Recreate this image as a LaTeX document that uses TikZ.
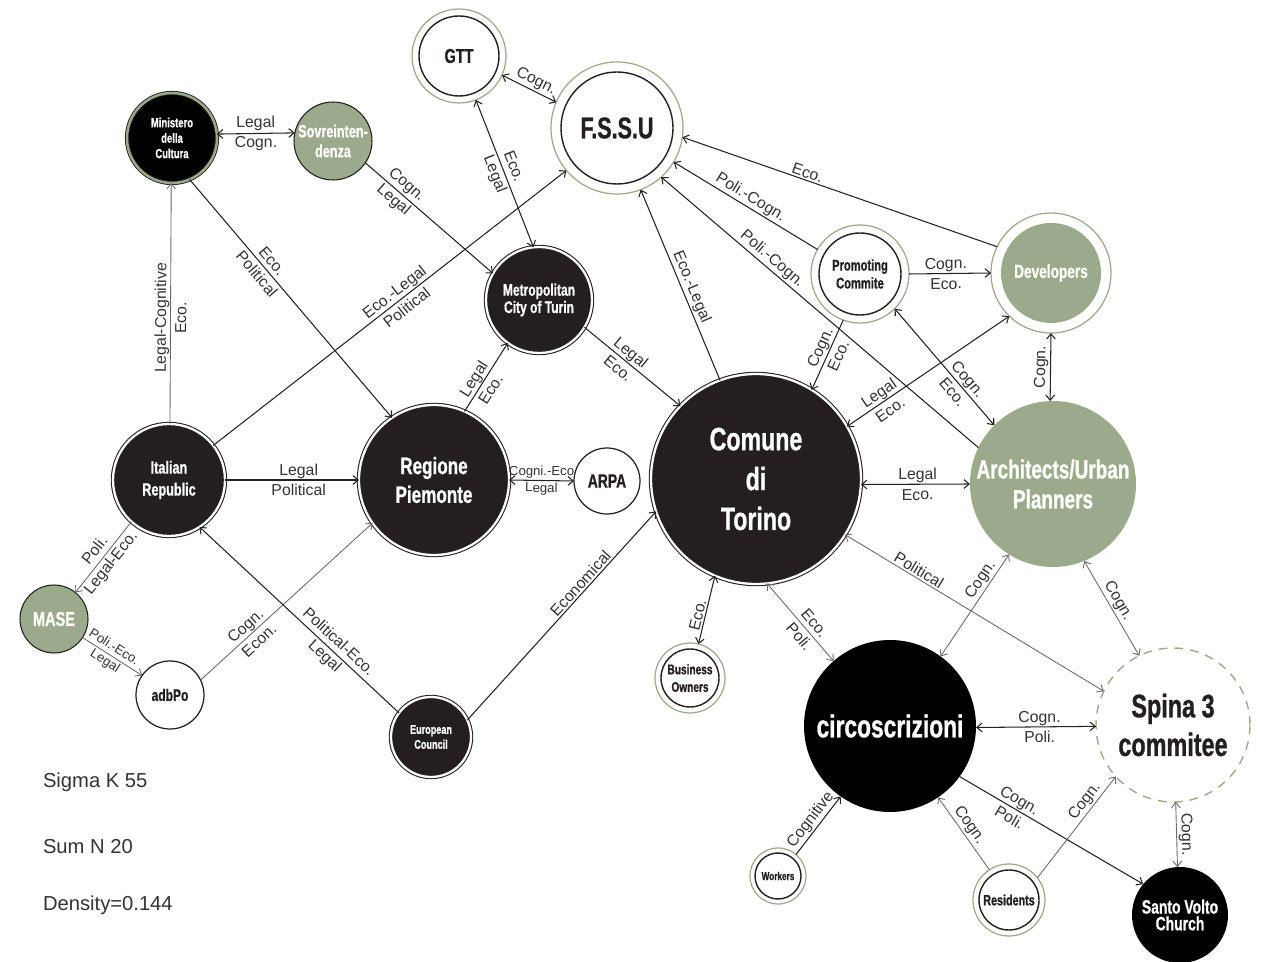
\documentclass[tikz,border=0pt]{standalone}
\usepackage{fontspec}
\setmainfont{Liberation Sans}
\newfontfamily\cond{Liberation Sans}[FakeStretch=0.72, FakeBold=0.8]
\usetikzlibrary{arrows.meta}
\definecolor{sage}{HTML}{9BAA8A}
\definecolor{ink}{HTML}{231F20}
\definecolor{labgray}{HTML}{333333}
\definecolor{wire}{HTML}{222222}
\definecolor{softwire}{HTML}{6A6A6A}

\begin{document}
\begin{tikzpicture}[x=0.02cm, y=-0.02cm,
  >={Straight Barb[length=3pt,width=5pt]},
  every node/.style={outer sep=0pt},
  actor/.style={circle, inner sep=0pt, align=center, minimum size={2*#1*0.02cm}},
  nf/.style 2 args={font={\cond\bfseries\fontsize{#1}{#2}\selectfont}},
  blackdbl/.style={actor=#1, draw=ink, line width=0.6pt, double=white, double distance=1.3pt, fill=ink, text=white},
  mincult/.style={actor=#1, draw=ink, line width=0.5pt, double=sage, double distance=1.4pt, fill=black, text=white},
  ringwhite/.style 2 args={actor=#1, draw=sage, line width=0.7pt, fill=white, text=ink,
    path picture={\draw[ink, line width=0.8pt] (path picture bounding box.center) circle[radius={#2*0.02cm}];}},
  ringgreen/.style 2 args={actor=#1, draw=sage, line width=0.7pt, fill=white, text=white,
    path picture={\fill[sage] (path picture bounding box.center) circle[radius={#2*0.02cm}];}},
  sagebox/.style={actor=#1, draw=ink, line width=0.6pt, fill=sage, text=white},
  greenfill/.style={actor=#1, fill=sage, text=white},
  plainwhite/.style={actor=#1, draw=ink, line width=0.7pt, fill=white, text=ink},
  solidblack/.style={actor=#1, fill=black, text=white},
  dashring/.style={actor=#1, draw=sage, line width=0.8pt, dash pattern=on 5pt off 4pt, fill=white, text=ink},
  edge/.style={draw=wire, line width=0.6pt},
  softedge/.style={draw=softwire, line width=0.5pt},
  lab/.style={font=\fontsize{9}{10}\selectfont, text=labgray, inner sep=1.2pt, sloped},
  pair/.style={lab, inner sep=0pt, align=center, font=\fontsize{9}{11.5}\selectfont},
  spair/.style={pair, font=\fontsize{7.5}{9.5}\selectfont},
  stat/.style={anchor=west, inner sep=0pt, font=\fontsize{11.5}{13}\selectfont, text=labgray},
]
\useasboundingbox (0,0) rectangle (1265,962);

% actors
\node[mincult=45, nf={7.5}{8.8}] (min) at (172,138) {Ministero\\della\\Cultura};
\node[sagebox=39, nf={10}{11.3}] (sov) at (333,141) {Sovreinten-\\denza};
\node[ringwhite={47}{40}, nf={11.4}{13}] (gtt) at (459,56) {GTT};
\node[ringwhite={66}{56}, nf={17}{20}] (fssu) at (617,128) {F.S.S.U};
\node[blackdbl=53, nf={9.5}{8.5}] (metro) at (539,300) {Metropolitan\\City of Turin};
\node[blackdbl=56, nf={10}{12.5}] (ir) at (169,480) {Italian\\Republic};
\node[blackdbl=75, nf={13.5}{16.4}] (reg) at (434,480) {Regione\\Piemonte};
\node[plainwhite=33, nf={11}{13}] (arpa) at (607,481) {ARPA};
\node[blackdbl=105, nf={18.3}{22.7}] (com) at (756,479) {Comune\\di\\Torino};
\node[ringwhite={49}{41}, nf={8.8}{10.2}] (prom) at (860,274) {Promoting\\Commite};
\node[ringgreen={60}{50}, nf={10.8}{13}] (dev) at (1051,273) {Developers};
\node[greenfill=83, nf={15}{17}] (arch) at (1053,484) {Architects/Urban\\Planners};
\node[sagebox=34, nf={11.5}{13}] (mase) at (54,619) {MASE};
\node[plainwhite=34, nf={9.5}{11}] (adb) at (170,695) {adbPo};
\node[blackdbl=40, nf={7.2}{8.5}] (eu) at (431,737) {European\\Council};
\node[ringwhite={35}{29}, nf={8}{10}] (bus) at (690,678) {Business\\Owners};
\node[solidblack=86, nf={18}{20}] (circ) at (890,726) {circoscrizioni};
\node[dashring=77, nf={18.5}{22}] (spina) at (1173,725) {Spina 3\\commitee};
\node[ringwhite={28}{23}, nf={6.5}{8}] (work) at (778,876) {Workers};
\node[ringwhite={36}{30}, nf={8.5}{10}] (res) at (1009,900) {Residents};
\node[solidblack=48, nf={11}{9.5}] (svc) at (1180,915) {Santo Volto\\Church};

% network statistics
\node[stat] (sigma) at (43,782) {Sigma K 55};
\node[stat] (sumn) at (43,847) {Sum N 20};
\node[stat] (dens) at (43,905) {Density=0.144};

% relations
\draw[edge, <->] (min.5) -- node[pair, pos=0.5]{Legal\\Cogn.} (sov.168);
\draw[softedge, ->] (ir.89) -- node[pair, pos=0.44]{Legal-Cognitive\\Eco.} (min.-91);
\draw[edge, ->] (min.-67) -- node[pair, pos=0.37]{Eco.\\Political} (reg.124);
\draw[edge, ->] (sov.-34) -- node[pair, pos=0.27]{Cogn.\\Legal} (metro.150);
\draw[edge, <->] (gtt.-24) -- node[lab, above, pos=0.55]{Cogn.} (fssu.157);
\draw[edge, <->] (gtt.-69) -- node[pair, pos=0.48]{Eco.\\Legal} (metro.96);
\draw[edge, ->] (ir.38) -- node[pair, pos=0.53]{Eco.-Legal\\Political} (fssu.220);
\draw[edge, ->] (ir.0) -- node[pair, pos=0.55]{Legal\\Political} (reg.180);
\draw[edge, ->] (reg.66) -- node[pair, pos=0.4]{Legal\\Eco.} (metro.234);
\draw[edge, ->] (metro.-31) -- node[pair, pos=0.42]{Legal\\Eco.} (com.136);
\draw[edge, <->] (reg.0) -- node[spair, pos=0.5]{Cogni.-Eco\\Legal} (arpa.180);
\draw[softedge, ->] (ir.228) -- node[pair, pos=0.5]{Poli.\\Legal-Eco.} (mase.51);
\draw[softedge, ->] (mase.-33) -- node[spair, pos=0.45]{Poli.-Eco.\\Legal} (adb.145);
\draw[softedge, ->] (adb.26) -- node[pair, pos=0.3]{Cogn.\\Econ.} (reg.215);
\draw[edge, ->] (eu.143) -- node[pair, pos=0.34]{Political-Eco.\\Legal} (ir.-57);
\draw[edge, ->] (eu.25) -- node[lab, above, pos=0.63]{Economical} (com.198);
\draw[edge, ->] (com.110) -- node[lab, above, pos=0.47]{Eco.-Legal} (fssu.-69);
\draw[edge, ->] (dev.154) -- node[lab, above, pos=0.61]{Eco.} (fssu.-8);
\draw[edge, ->] (prom.150) -- node[lab, above, pos=0.5]{Poli.-Cogn.} (fssu.-31);
\draw[edge, ->] (arch.154) -- node[lab, above, pos=0.67]{Poli.-Cogn.} (fssu.-48);
\draw[edge, ->] (prom.0) -- node[pair, pos=0.45]{Cogn.\\Eco.} (dev.180);
\draw[edge, ->] (prom.250) -- node[pair, pos=0.45]{Cogn.\\Eco.} (com.58);
\draw[edge, <->] (prom.-45) -- node[pair, pos=0.66]{Cogn.\\Eco.} (arch.135);
\draw[edge, <->] (com.30) -- node[pair, pos=0.23]{Legal\\Eco.} (dev.226);
\draw[edge, <->] (arch.92) -- node[lab, above, pos=0.5]{Cogn.} (dev.-90);
\draw[edge, <->] (com.-3) -- node[pair, pos=0.52]{Legal\\Eco.} (arch.180);
\draw[softedge, <->] (com.-32) -- node[lab, above, pos=0.27]{Political} (spina.154);
\draw[softedge, <->] (circ.54) -- node[lab, above, pos=0.7]{Cogn.} (arch.238);
\draw[softedge, <->] (arch.-68) -- node[lab, above, pos=0.47]{Cogn.} (spina.116);
\draw[edge, <->] (bus.76) -- node[lab, above, pos=0.4]{Eco.} (com.247);
\draw[softedge, <->] (com.-84) -- node[pair, pos=0.6]{Eco.\\Poli.} (circ.131);
\draw[edge, <->] (circ.-1) -- node[pair, pos=0.53]{Cogn.\\Poli.} (spina.181);
\draw[edge, ->] (work.50) -- node[lab, above, pos=0.5]{Cognitive} (circ.235);
\draw[softedge, ->] (res.123) -- node[lab, above, pos=0.54]{Cogn.} (circ.-56);
\draw[edge, ->] (circ.-36) -- node[pair, pos=0.3]{Cogn.\\Poli.} (svc.140);
\draw[softedge, ->] (res.38) -- node[lab, above, pos=0.7]{Cogn.} (spina.222);
\draw[softedge, <->] (spina.-88) -- node[lab, above, pos=0.5]{Cogn.} (svc.93);
\end{tikzpicture}
\end{document}
